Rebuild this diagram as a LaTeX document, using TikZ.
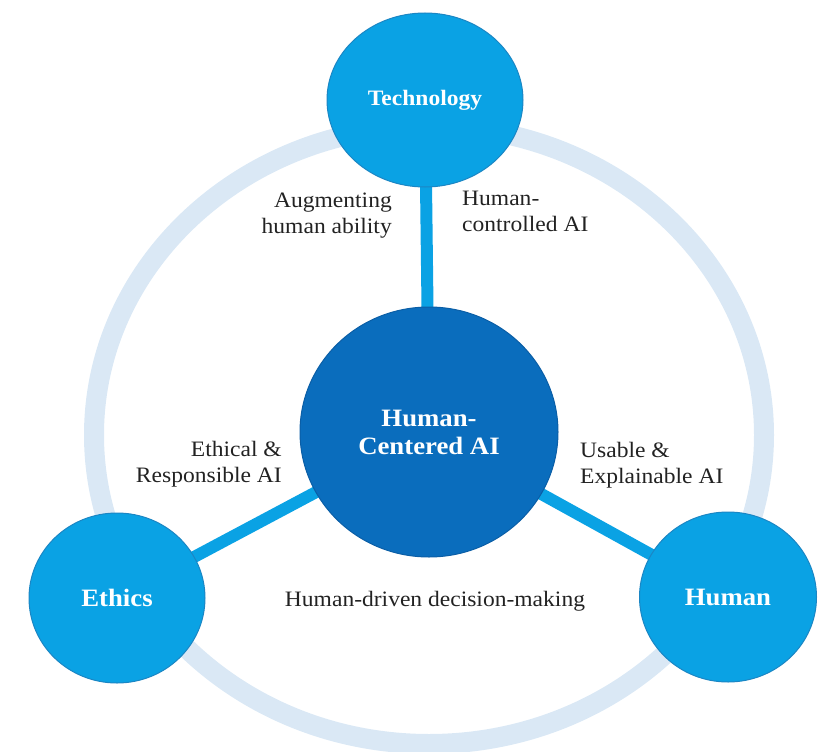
\documentclass[tikz,border=0pt]{standalone}
\usepackage{fontspec}
\setmainfont{Liberation Serif}[FakeStretch=1.07]
\usetikzlibrary{shapes.geometric,backgrounds}
\definecolor{outerblue}{HTML}{0AA2E4}
\definecolor{outeredge}{HTML}{1B86C4}
\definecolor{centerblue}{HTML}{0A6DBD}
\definecolor{centeredge}{HTML}{0A5EA6}
\definecolor{ringblue}{HTML}{DAE8F5}
\definecolor{txt}{HTML}{222222}
\tikzset{
  pillar/.style={ellipse, fill=outerblue, draw=outeredge, line width=1pt, inner sep=0pt,
    text=white, font=\fontsize{25}{28}\selectfont\bfseries},
  core/.style={ellipse, fill=centerblue, draw=centeredge, line width=1pt, inner sep=0pt,
    text=white, align=center, font=\fontsize{25}{28}\selectfont\bfseries},
  conn/.style={draw=outerblue, line width=12pt},
  ring/.style={draw=ringblue, line width=20pt},
  lbl/.style={text=txt, inner sep=0pt, font=\fontsize{22}{26}\selectfont}
}
\begin{document}
\begin{tikzpicture}[x=1pt,y=-1pt]
\useasboundingbox (0,0) rectangle (833,752);
\node[core, minimum width=258pt, minimum height=250pt] (hcai) at (429,432) {Human-\\Centered AI};
\node[pillar, minimum width=196pt, minimum height=174pt, font=\fontsize{22}{26}\selectfont\bfseries] (tech) at (425,100) {Technology};
\node[pillar, minimum width=176pt, minimum height=170pt] (ethics) at (117,598) {Ethics};
\node[pillar, minimum width=177pt, minimum height=170pt] (human) at (728,597) {Human};
\begin{scope}[on background layer]
  \draw[ring] (429,435) ellipse [x radius=335pt, y radius=309pt];
  \draw[conn] (hcai.center) -- (tech.center);
  \draw[conn] (hcai.center) -- (ethics.center);
  \draw[conn] (hcai.center) -- (human.center);
\end{scope}
\node[lbl, align=right, anchor=east] (aug) at (392,216) {Augmenting\\human ability};
\node[lbl, align=left, anchor=west] (hctrl) at (462,211) {Human-\\controlled AI};
\node[lbl, align=right, anchor=east] (eth) at (282,464) {Ethical \&\\Responsible AI};
\node[lbl, align=left, anchor=west] (use) at (580,465) {Usable \&\\Explainable AI};
\node[lbl] (hdd) at (435,601) {Human-driven decision-making};
\end{tikzpicture}
\end{document}
